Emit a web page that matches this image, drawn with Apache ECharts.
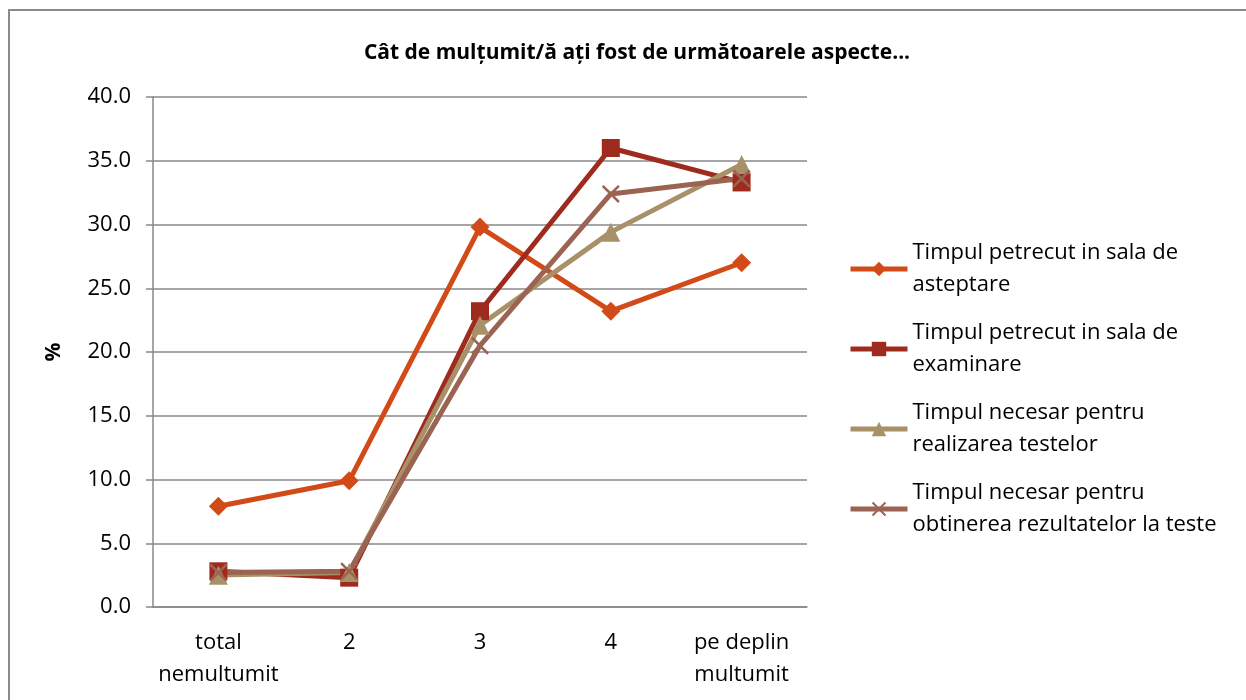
<!DOCTYPE html>
<html>
<head>
<meta charset="utf-8">
<script src="https://cdn.jsdelivr.net/npm/echarts@6/dist/echarts.min.js"></script>
<style>
  html, body { margin: 0; padding: 0; background: #fff; }
  #chart { width: 1246px; height: 700px; }
</style>
</head>
<body>
<div id="chart"></div>
<script>
const categories = ['total\nnemultumit', '2', '3', '4', 'pe deplin\nmultumit']
const seriesNames = [
  'Timpul petrecut in sala de\nasteptare',
  'Timpul petrecut in sala de\nexaminare',
  'Timpul necesar pentru\nrealizarea testelor',
  'Timpul necesar pentru\nobtinerea rezultatelor la teste'
]
const asteptare = [7.9, 9.9, 29.8, 23.2, 27.0]
const examinare = [2.8, 2.3, 23.2, 36.0, 33.3]
const realizare = [2.5, 2.7, 22.1, 29.4, 34.7]
const rezultate = [2.7, 2.8, 20.5, 32.4, 33.6]

const colors = ['#D24A17', '#9E2B1E', '#A89069', '#9B6452']
const symbols = [
  'diamond',
  'rect',
  'triangle',
  'path://M0,1L1,0L5,4L9,0L10,1L6,5L10,9L9,10L5,6L1,10L0,9L4,5Z'
]
const symbolSizes = [19, 18, 19, 18]
const font = 'Open Sans'

const chart = echarts.init(document.getElementById('chart'))

const allData = [asteptare, examinare, realizare, rezultate]
const series = allData.map((d, i) => ({
  name: seriesNames[i],
  type: 'line',
  data: d,
  symbol: symbols[i],
  symbolSize: symbolSizes[i],
  lineStyle: { width: 5, color: colors[i] },
  itemStyle: { color: colors[i] },
  animation: false
}))

chart.setOption({
  color: colors,
  textStyle: { fontFamily: font },
  graphic: [{
    type: 'rect',
    shape: { x: 9, y: 10, width: 1400, height: 900 },
    style: { fill: 'none', stroke: '#8a8a8a', lineWidth: 2 },
    silent: true
  }],
  title: {
    text: 'Cât de mulțumit/ă ați fost de următoarele aspecte...',
    left: 632,
    textAlign: 'center',
    top: 38,
    textStyle: { fontFamily: font, fontSize: 21, fontWeight: 'bold', color: '#000' }
  },
  legend: {
    orient: 'vertical',
    left: 843,
    top: 232,
    itemGap: 16,
    itemWidth: 57,
    itemHeight: 18,
    lineStyle: { width: 5 },
    textStyle: { fontFamily: font, fontSize: 22, color: '#000', lineHeight: 32 },
    data: seriesNames
  },
  grid: { left: 153, right: 439, top: 97, bottom: 93 },
  xAxis: {
    type: 'category',
    data: categories,
    boundaryGap: true,
    axisLine: { lineStyle: { color: '#888', width: 1.5 } },
    axisTick: { show: false },
    axisLabel: { color: '#000', fontSize: 22, lineHeight: 32, margin: 20, interval: 0, fontFamily: font }
  },
  yAxis: {
    type: 'value',
    min: 0,
    max: 40,
    interval: 5,
    name: '%',
    nameLocation: 'middle',
    nameGap: 88,
    nameRotate: 90,
    nameTextStyle: { fontFamily: font, fontSize: 21, fontWeight: 'bold', color: '#000' },
    axisLine: { show: true, lineStyle: { color: '#888', width: 1.5 } },
    axisTick: { show: true, length: 7, lineStyle: { color: '#888', width: 1.5 } },
    splitLine: { lineStyle: { color: '#888', width: 1.5 } },
    axisLabel: {
      color: '#000', fontSize: 22, margin: 22, fontFamily: font,
      formatter: v => v.toFixed(1)
    }
  },
  series
})
</script>
</body>
</html>
